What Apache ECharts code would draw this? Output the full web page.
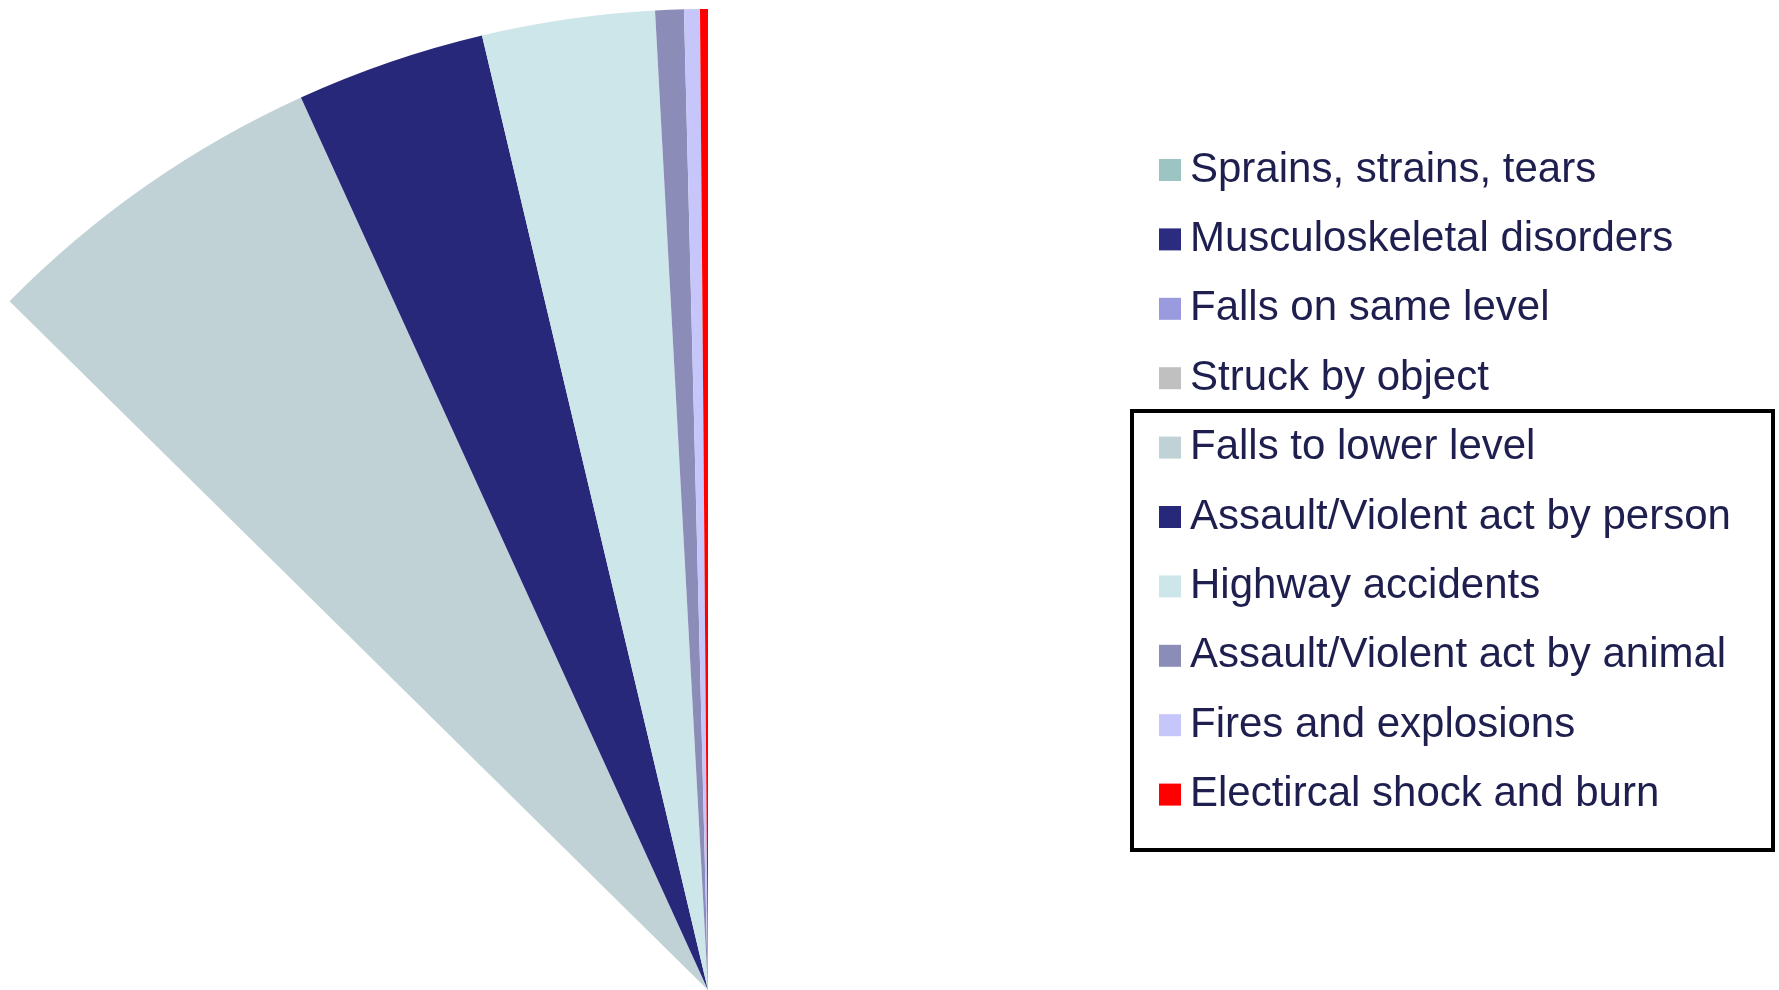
<!DOCTYPE html>
<html>
<head>
<meta charset="utf-8">
<script src="https://cdn.jsdelivr.net/npm/echarts@6/dist/echarts.min.js"></script>
<style>
html,body{margin:0;padding:0;background:#fff;}
#chart{width:1779px;height:990px;}
</style>
</head>
<body>
<div id="chart"></div>
<script>
// Categories (in pie order, clockwise from 12 o'clock)
const categories = [
  'Sprains, strains, tears',
  'Musculoskeletal disorders',
  'Falls on same level',
  'Struck by object',
  'Falls to lower level',
  'Assault/Violent act by person',
  'Highway accidents',
  'Assault/Violent act by animal',
  'Fires and explosions',
  'Electircal shock and burn'
];
// Share of cases (%) - first four slices are not drawn in the reference
const values = [38.0, 24.0, 15.0, 10.39, 5.8, 3.11, 2.84, 0.47, 0.26, 0.13];
// Which slices are shown in the picture
const shown = [false, false, false, false, true, true, true, true, true, true];

const colors = ['#9cc4c2', '#2b2b80', '#9a9adf', '#c0c0c0', '#c0d2d5',
                '#28287a', '#cde6e9', '#8c8cb8', '#c6c6fa', '#ff0000'];

const chart = echarts.init(document.getElementById('chart'), null, {renderer: 'canvas'});

const pieData = categories.map((c, i) => ({
  name: c,
  value: values[i],
  itemStyle: { color: shown[i] ? colors[i] : 'rgba(255,255,255,0)', borderWidth: 0 }
}));

const legendData = categories.map((c, i) => ({
  name: c,
  icon: 'rect',
  itemStyle: { color: colors[i], opacity: 1, borderWidth: 0 }
}));

chart.setOption({
  animation: false,
  backgroundColor: '#ffffff',
  legend: {
    orient: 'vertical',
    left: 1154,
    top: 140,
    itemWidth: 22,
    itemHeight: 22,
    itemGap: 19.4,
    selectedMode: false,
    data: legendData,
    textStyle: {
      fontFamily: '"Liberation Sans", Arial, sans-serif',
      fontSize: 42,
      lineHeight: 50,
      color: '#1f1f4f',
      padding: [0, 0, 0, 4]
    },
    itemStyle: { borderWidth: 0 }
  },
  series: [{
    type: 'pie',
    center: [708, 990],
    radius: [0, 981],
    startAngle: 90,
    clockwise: true,
    label: { show: false },
    labelLine: { show: false },
    emphasis: { disabled: true },
    silent: true,
    avoidLabelOverlap: false,
    itemStyle: { borderWidth: 0 },
    data: pieData
  }],
  graphic: [{
    type: 'rect',
    shape: { x: 1132, y: 411, width: 641, height: 439 },
    style: { fill: 'none', stroke: '#000000', lineWidth: 4 },
    silent: true
  }]
});
</script>
</body>
</html>
